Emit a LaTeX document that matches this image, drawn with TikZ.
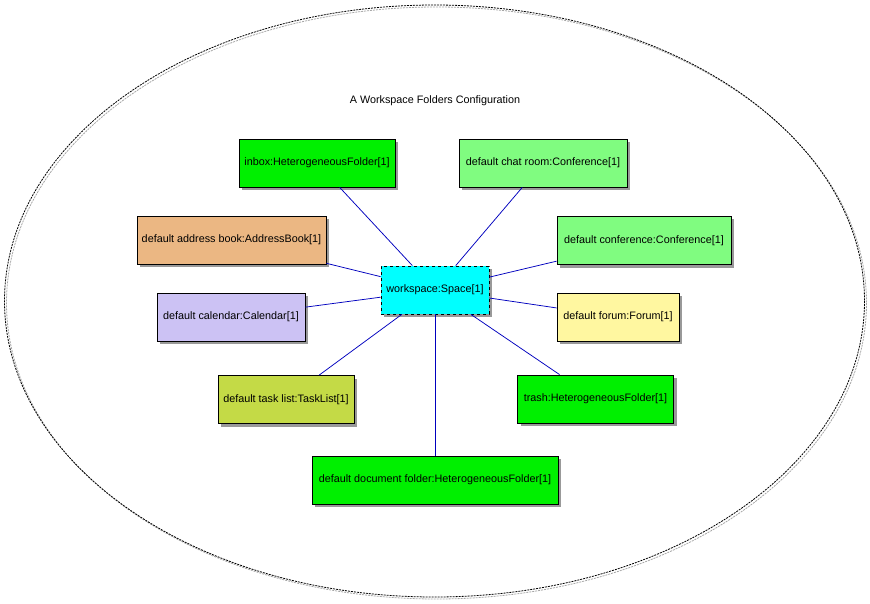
\documentclass[tikz,border=0pt]{standalone}
\usepackage{fontspec}
\setmainfont{Liberation Sans}
\usetikzlibrary{shadows}

\definecolor{hellgruen}{RGB}{0,240,0}
\definecolor{blassgruen}{RGB}{128,252,128}
\definecolor{adressfarbe}{RGB}{235,183,131}
\definecolor{kalenderfarbe}{RGB}{204,194,244}
\definecolor{forumfarbe}{RGB}{255,247,160}
\definecolor{aufgabenfarbe}{RGB}{196,218,70}
\definecolor{raumfarbe}{RGB}{0,255,255}
\definecolor{linienblau}{RGB}{0,0,190}

\begin{document}
\begin{tikzpicture}[%show background rectangle,
        x=1pt, y=-1pt,
        font=\fontsize{10.8}{13}\selectfont,
        objekt/.style={draw, line width=0.8pt, inner sep=0pt,
            minimum height=48pt,
            drop shadow={shadow xshift=3pt, shadow yshift=-3pt,
                fill=black!40, opacity=1}},
        raum/.style={objekt, dashed, fill=raumfarbe},
        kante/.style={draw=linienblau, line width=0.75pt}
        ]
            \useasboundingbox (0,0) rectangle (870,604);

            % Rahmen
            \draw [black!35, line width=0.8pt, dash pattern=on 2pt off 1pt]
                (436.5,303) ellipse [x radius=430, y radius=296];
            \draw [line width=0.8pt, dash pattern=on 2pt off 1pt]
                (434.5,301) ellipse [x radius=430, y radius=296];
            \node (titel) at (435,101) {A Workspace Folders Configuration};

            % Objekte
            \node [objekt, fill=hellgruen, minimum width=156pt]
                (inbox) at (317,163) {inbox:HeterogeneousFolder[1]};
            \node [objekt, fill=blassgruen, minimum width=168pt]
                (chat) at (543,163) {default chat room:Conference[1]};
            \node [objekt, fill=adressfarbe, minimum width=189pt]
                (adressen) at (231.5,240) {default address book:AddressBook[1]};
            \node [objekt, fill=blassgruen, minimum width=174pt]
                (konferenz) at (644,240.5) {default conference:Conference[1]};
            \node [objekt, fill=kalenderfarbe, minimum width=148pt]
                (kalender) at (231,317) {default calendar:Calendar[1]};
            \node [objekt, fill=forumfarbe, minimum width=122pt]
                (forum) at (618,317) {default forum:Forum[1]};
            \node [objekt, fill=aufgabenfarbe, minimum width=136pt]
                (aufgaben) at (286,399.5) {default task list:TaskList[1]};
            \node [objekt, fill=hellgruen, minimum width=156pt]
                (papierkorb) at (595.5,399) {trash:HeterogeneousFolder[1]};
            \node [objekt, fill=hellgruen, minimum width=246pt]
                (dokumente) at (435,480) {default document folder:HeterogeneousFolder[1]};

            \node [raum, minimum width=108pt]
                (ws) at (435,290) {workspace:Space[1]};

            % Verbindungen
            \foreach \ziel in {inbox, chat, adressen, konferenz, kalender,
                               forum, aufgaben, papierkorb, dokumente}
                \path [kante] (ws) -- (\ziel);
        \end{tikzpicture}
\end{document}
